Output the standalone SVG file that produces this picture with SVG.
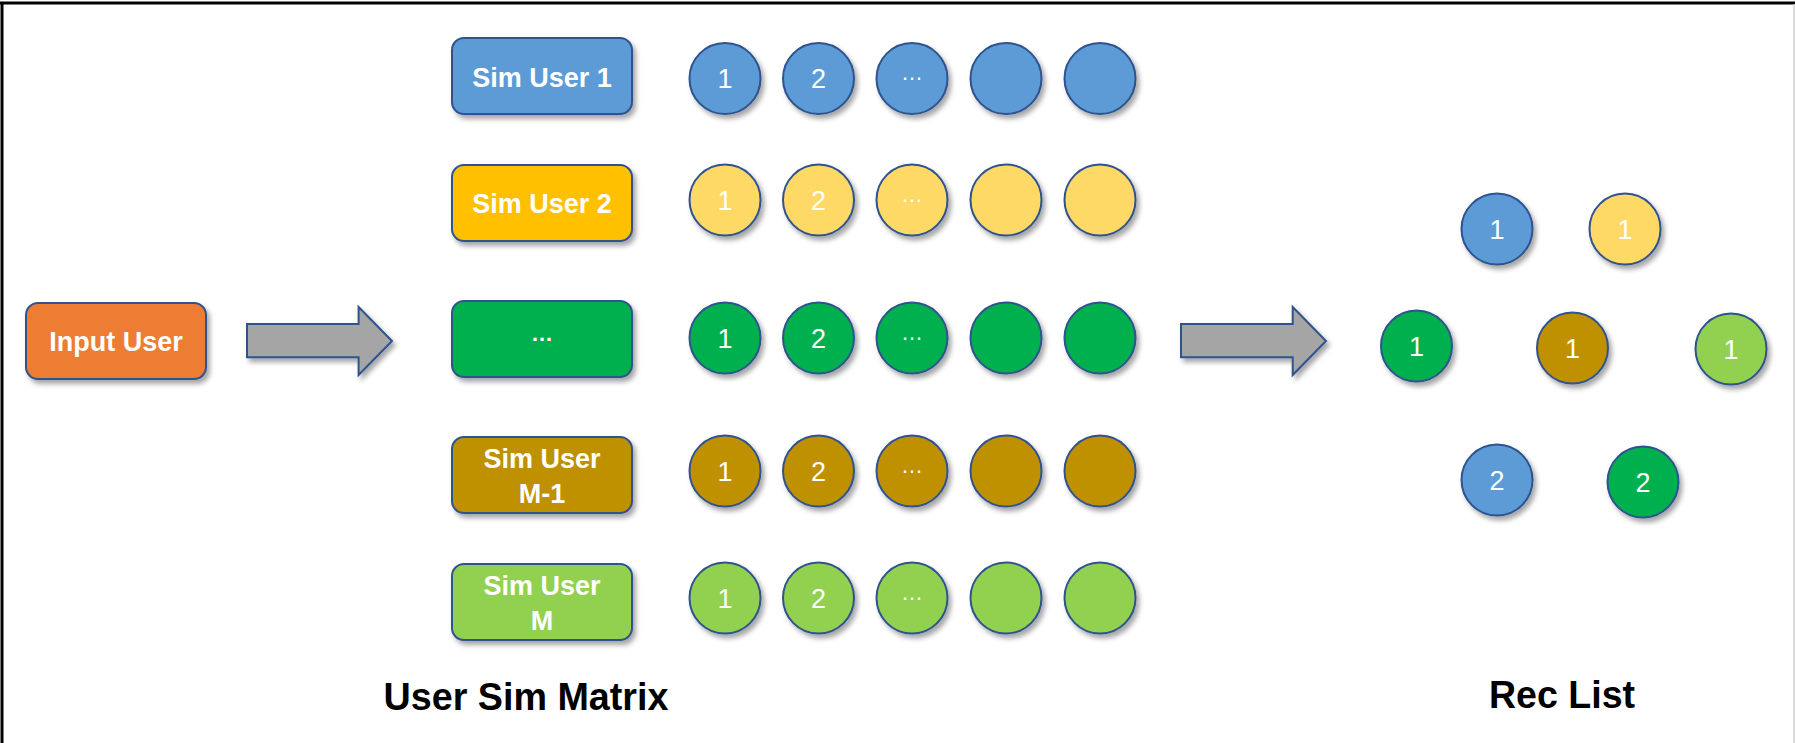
<svg xmlns="http://www.w3.org/2000/svg" width="1795" height="743" viewBox="0 0 1795 743">
<defs>
<filter id="sh" x="-20%" y="-20%" width="150%" height="160%">
<feDropShadow dx="3" dy="4" stdDeviation="2.5" flood-color="#000" flood-opacity="0.35"/>
</filter>
</defs>
<style>
.box{stroke:#2F528F;stroke-width:2;filter:url(#sh)}
.c{stroke:#2F528F;stroke-width:2;filter:url(#sh)}
.bt{font-family:"Liberation Sans",Arial,sans-serif;font-weight:bold;font-size:27px;fill:#fff;text-anchor:middle}
.ct{font-family:"Liberation Sans",Arial,sans-serif;font-size:27px;fill:#fff;text-anchor:middle}
.dt{font-family:"Liberation Sans",Arial,sans-serif;font-size:22px;fill:#fff;text-anchor:middle}
.lbl{font-family:"Liberation Sans",Arial,sans-serif;font-weight:bold;font-size:39px;fill:#000;text-anchor:middle}
.arr{fill:#A5A5A5;stroke:#2F528F;stroke-width:2;filter:url(#sh)}
.blue{fill:#5B9BD5}.yel{fill:#FFC000}.yel2{fill:#FFD966}.grn{fill:#00B050}.brn{fill:#BF9000}.lg{fill:#92D050}.org{fill:#ED7D31}
</style>
<rect x="0" y="0" width="1795" height="743" fill="#fff"/>
<g id="frame">
<line x1="0" y1="3" x2="1795" y2="3" stroke="#000" stroke-width="3"/>
<line x1="2" y1="2" x2="2" y2="743" stroke="#000" stroke-width="3"/>
<line x1="1794" y1="4" x2="1794" y2="743" stroke="#cfcfcf" stroke-width="1.5"/>
</g>

<g id="input-user">
<rect class="box org" x="26" y="303" width="180" height="76" rx="12"/>
<text class="bt" x="116" y="351">Input User</text>
</g>

<g id="connectors">
<path class="arr" d="M247,324 H358.6 V307 L392,341 L358.6,375 V357.3 H247 Z"/>
<path class="arr" d="M1181,324 H1292.7 V307 L1326,341 L1292.7,375 V357.3 H1181 Z"/>
</g>

<g id="sim-user-1">
<rect class="box blue" x="452" y="38" width="180" height="76" rx="12"/>
<text class="bt" x="542" y="87">Sim User 1</text>
</g>
<g id="sim-user-2">
<rect class="box yel" x="452" y="165" width="180" height="76" rx="12"/>
<text class="bt" x="542" y="213">Sim User 2</text>
</g>
<g id="sim-user-dots">
<rect class="box grn" x="452" y="301" width="180" height="76" rx="12"/>
<text class="bt" x="542" y="341" style="font-size:22px">…</text>
</g>
<g id="sim-user-m1">
<rect class="box brn" x="452" y="437" width="180" height="76" rx="12"/>
<text class="bt" x="542" y="468">Sim User</text>
<text class="bt" x="542" y="503">M-1</text>
</g>
<g id="sim-user-m">
<rect class="box lg" x="452" y="564" width="180" height="76" rx="12"/>
<text class="bt" x="542" y="595">Sim User</text>
<text class="bt" x="542" y="630">M</text>
</g>

<g id="row-1">
<circle class="c blue" cx="725" cy="78.5" r="35.5"/><text class="ct" x="725" y="88">1</text>
<circle class="c blue" cx="818.5" cy="78.5" r="35.5"/><text class="ct" x="818.5" y="88">2</text>
<circle class="c blue" cx="912" cy="78.5" r="35.5"/><text class="dt" x="912" y="80">…</text>
<circle class="c blue" cx="1006" cy="78.5" r="35.5"/>
<circle class="c blue" cx="1100" cy="78.5" r="35.5"/>
</g>
<g id="row-2">
<circle class="c yel2" cx="725" cy="200" r="35.5"/><text class="ct" x="725" y="210">1</text>
<circle class="c yel2" cx="818.5" cy="200" r="35.5"/><text class="ct" x="818.5" y="210">2</text>
<circle class="c yel2" cx="912" cy="200" r="35.5"/><text class="dt" x="912" y="202">…</text>
<circle class="c yel2" cx="1006" cy="200" r="35.5"/>
<circle class="c yel2" cx="1100" cy="200" r="35.5"/>
</g>
<g id="row-3">
<circle class="c grn" cx="725" cy="338" r="35.5"/><text class="ct" x="725" y="348">1</text>
<circle class="c grn" cx="818.5" cy="338" r="35.5"/><text class="ct" x="818.5" y="348">2</text>
<circle class="c grn" cx="912" cy="338" r="35.5"/><text class="dt" x="912" y="340">…</text>
<circle class="c grn" cx="1006" cy="338" r="35.5"/>
<circle class="c grn" cx="1100" cy="338" r="35.5"/>
</g>
<g id="row-4">
<circle class="c brn" cx="725" cy="471" r="35.5"/><text class="ct" x="725" y="481">1</text>
<circle class="c brn" cx="818.5" cy="471" r="35.5"/><text class="ct" x="818.5" y="481">2</text>
<circle class="c brn" cx="912" cy="471" r="35.5"/><text class="dt" x="912" y="473">…</text>
<circle class="c brn" cx="1006" cy="471" r="35.5"/>
<circle class="c brn" cx="1100" cy="471" r="35.5"/>
</g>
<g id="row-5">
<circle class="c lg" cx="725" cy="598" r="35.5"/><text class="ct" x="725" y="608">1</text>
<circle class="c lg" cx="818.5" cy="598" r="35.5"/><text class="ct" x="818.5" y="608">2</text>
<circle class="c lg" cx="912" cy="598" r="35.5"/><text class="dt" x="912" y="600">…</text>
<circle class="c lg" cx="1006" cy="598" r="35.5"/>
<circle class="c lg" cx="1100" cy="598" r="35.5"/>
</g>

<g id="rec-list">
<circle class="c blue" cx="1497" cy="229" r="35.5"/><text class="ct" x="1497" y="239">1</text>
<circle class="c yel2" cx="1625" cy="229" r="35.5"/><text class="ct" x="1625" y="239">1</text>
<circle class="c grn" cx="1416.5" cy="346" r="35.5"/><text class="ct" x="1416.5" y="356">1</text>
<circle class="c brn" cx="1572.5" cy="348" r="35.5"/><text class="ct" x="1572.5" y="358">1</text>
<circle class="c lg" cx="1731" cy="349" r="35.5"/><text class="ct" x="1731" y="359">1</text>
<circle class="c blue" cx="1497" cy="480" r="35.5"/><text class="ct" x="1497" y="490">2</text>
<circle class="c grn" cx="1643" cy="482" r="35.5"/><text class="ct" x="1643" y="492">2</text>
</g>

<g id="labels">
<text class="lbl" x="526" y="710" textLength="285" lengthAdjust="spacingAndGlyphs">User Sim Matrix</text>
<text class="lbl" x="1562" y="708" textLength="146" lengthAdjust="spacingAndGlyphs">Rec List</text>
</g>
</svg>
